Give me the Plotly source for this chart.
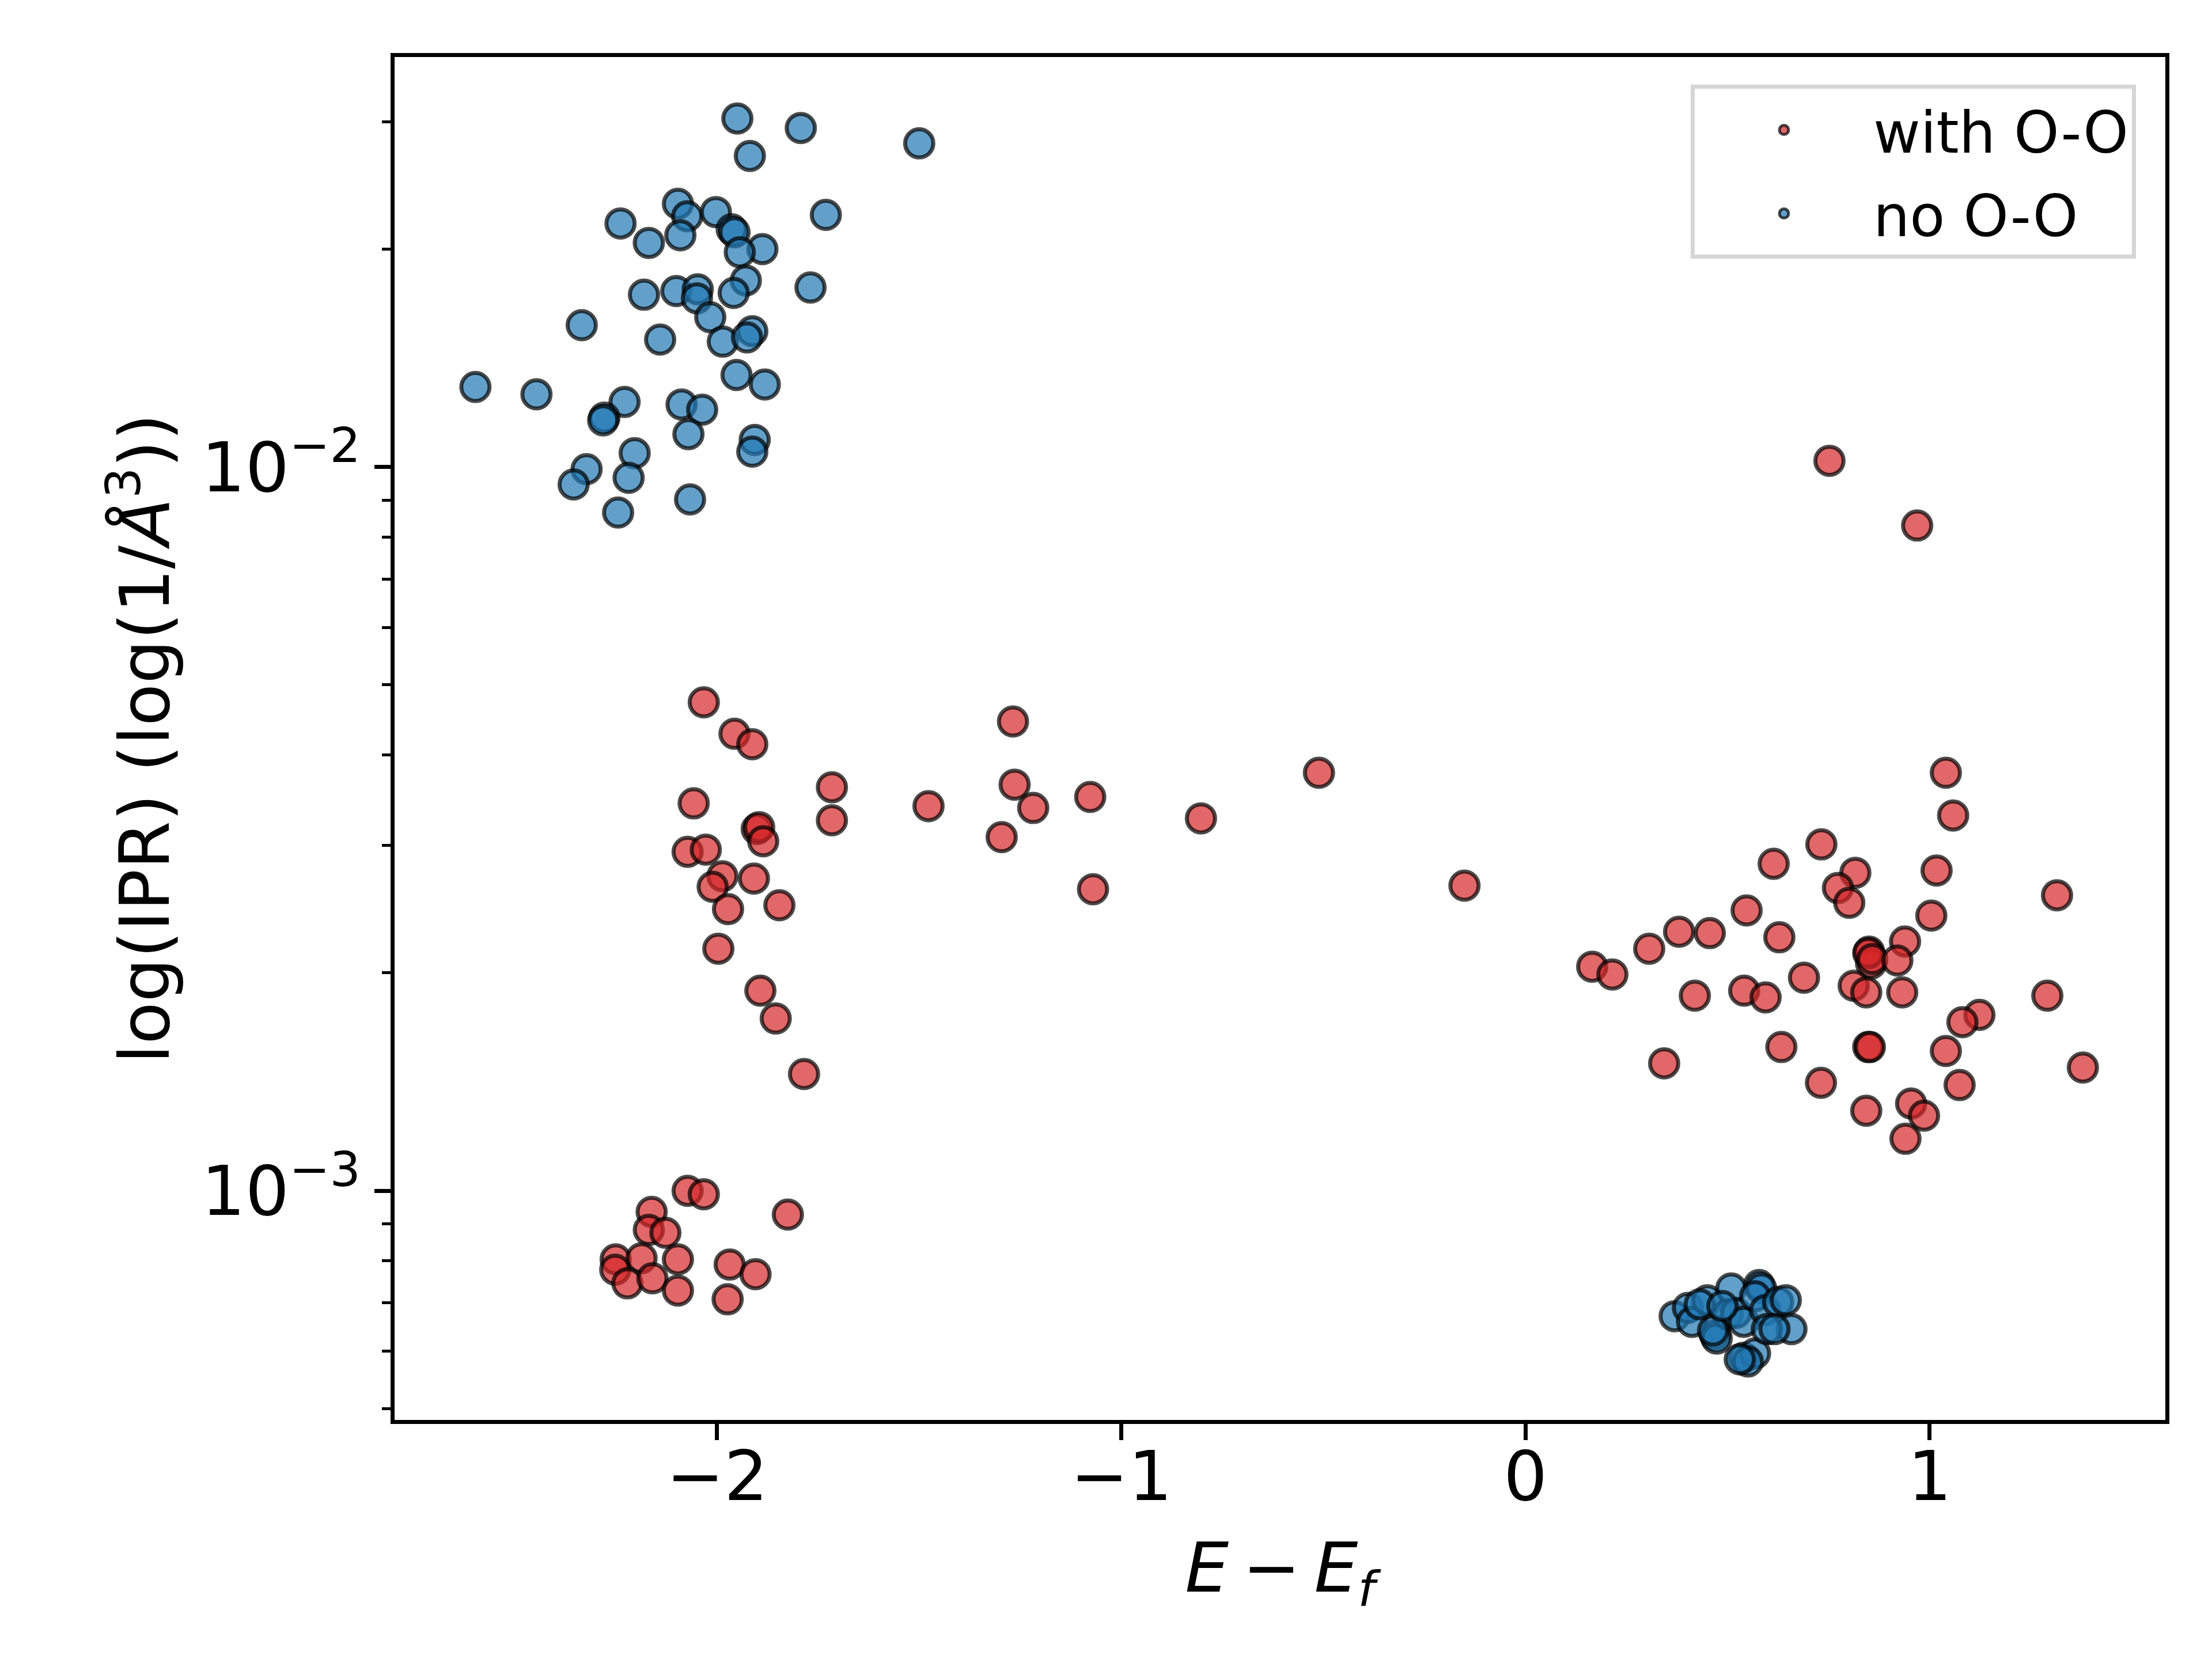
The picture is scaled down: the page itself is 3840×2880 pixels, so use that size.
import plotly.graph_objects as go

# --- DATA ---
# states with an O-O bond (red)
with_oo_x = [
    -2.033, -1.957, -1.913, -1.716, -1.716, -2.058, -1.902, -1.896, -1.886, -2.073,
    -2.028, -1.987, -2.011, -1.909, -1.973, -1.846, -1.997, -1.893, -1.855, -1.785,
    -1.268, -1.477, -1.264, -1.218, -1.296, -1.077, -1.070, -0.803, -0.511, -0.151,
    0.752, 0.969, 1.040, 1.058, 0.732, 0.614, 0.816, 0.773, 0.801, 1.017,
    1.315, 0.547, 1.004, 0.380, 0.456, 0.628, 0.306, 0.165, 0.215, 0.850,
    0.855, 0.848, 0.858, 0.939, 0.920, 0.689, 0.812, 0.843, 0.932, 0.419,
    0.541, 0.594, 1.291, 1.123, 1.081, 0.633, 0.848, 0.852, 1.040, 0.343,
    1.379, 0.731, 1.074, 0.843, 0.954, 0.986, 0.940,
    -2.073, -2.033, -1.825, -2.162, -2.169, -2.128, -2.251, -2.252, -2.187, -2.097,
    -2.222, -2.160, -2.097, -1.969, -1.905, -1.974,
]
with_oo_ipr = [
    0.00473, 0.00428, 0.00414, 0.00361, 0.00325, 0.00343, 0.00316, 0.00318, 0.00304, 0.00294,
    0.00296, 0.00272, 0.00263, 0.00270, 0.00245, 0.00248, 0.00216, 0.00189, 0.00173, 0.00145,
    0.00445, 0.00340, 0.00364, 0.00338, 0.00308, 0.00350, 0.00261, 0.00327, 0.00378, 0.00264,
    0.0102, 0.00830, 0.00378, 0.00330, 0.00301, 0.00283, 0.00275, 0.00262, 0.00250, 0.00277,
    0.00256, 0.00244, 0.00240, 0.00228, 0.00227, 0.00224, 0.00216, 0.00204, 0.00199, 0.00214,
    0.00206, 0.00213, 0.00209, 0.00221, 0.00208, 0.00197, 0.00192, 0.00188, 0.00188, 0.00186,
    0.00189, 0.00185, 0.00186, 0.00175, 0.00171, 0.00158, 0.00158, 0.00158, 0.00156, 0.00150,
    0.00148, 0.00141, 0.00140, 0.00129, 0.00132, 0.00127, 0.00118,
    0.00100, 0.000989, 0.000927, 0.000935, 0.000883, 0.000875, 0.000804, 0.000778, 0.000807, 0.000804,
    0.000745, 0.000757, 0.000728, 0.000791, 0.000767, 0.000708,
]

# states without an O-O bond (blue)
no_oo_x = [
    -1.950, -1.793, -1.500, -1.919, -2.097, -2.074, -2.003, -1.731, -2.239, -1.964,
    -1.957, -2.091, -2.169, -1.888, -1.944, -1.929, -1.769, -2.181, -2.101, -2.048,
    -2.050, -1.959, -2.017, -2.335, -2.141, -1.986, -1.913, -1.926, -1.952, -1.882,
    -2.598, -2.447, -2.229, -2.088, -2.037, -2.279, -2.282, -2.071, -1.907, -1.913,
    -2.204, -2.323, -2.355, -2.219, -2.067, -2.245,
    0.369, 0.402, 0.412, 0.450, 0.469, 0.473, 0.509, 0.500, 0.521, 0.540,
    0.540, 0.568, 0.550, 0.578, 0.583, 0.568, 0.593, 0.625, 0.644, 0.658,
    0.597, 0.464, 0.616, 0.431, 0.530, 0.487,
]
no_oo_ipr = [
    0.0303, 0.0294, 0.0280, 0.0269, 0.0231, 0.0222, 0.0225, 0.0223, 0.0217, 0.0213,
    0.0211, 0.0209, 0.0204, 0.0200, 0.0198, 0.0181, 0.0177, 0.0173, 0.0175, 0.0176,
    0.0171, 0.0174, 0.0161, 0.0157, 0.0150, 0.0149, 0.0154, 0.0151, 0.0134, 0.0130,
    0.0129, 0.0126, 0.0123, 0.0122, 0.0120, 0.0117, 0.0116, 0.0111, 0.0109, 0.0105,
    0.01045, 0.00993, 0.00946, 0.00966, 0.00902, 0.00865,
    0.000671, 0.000689, 0.000659, 0.000706, 0.000632, 0.000625, 0.000733, 0.000675, 0.000678, 0.000659,
    0.000588, 0.000596, 0.000581, 0.000741, 0.000733, 0.000715, 0.000684, 0.000702, 0.000706, 0.000644,
    0.000644, 0.000641, 0.000644, 0.000697, 0.000585, 0.000693,
]

x_ticks = [-2, -1, 0, 1]
x_tick_text = ["\u22122", "\u22121", "0", "1"]
y_ticks = [1e-3, 1e-2]
y_tick_text = ["10<sup>\u22123</sup>", "10<sup>\u22122</sup>"]
y_minor = [5e-4, 6e-4, 7e-4, 8e-4, 9e-4, 2e-3, 3e-3, 4e-3, 5e-3, 6e-3, 7e-3, 8e-3, 9e-3, 2e-2, 3e-2]

FONT = "DejaVu Sans"
MSIZE = 49
MLINE = 7

fig = go.Figure()
fig.add_trace(go.Scatter(
    x=with_oo_x, y=with_oo_ipr, mode="markers", name="with O-O", legendgroup="a",
    marker=dict(size=MSIZE, color="rgba(214,39,40,0.7)",
                line=dict(color="rgba(0,0,0,0.7)", width=MLINE)),
))
fig.add_trace(go.Scatter(
    x=no_oo_x, y=no_oo_ipr, mode="markers", name="no O-O", legendgroup="b",
    marker=dict(size=MSIZE, color="rgba(31,119,180,0.7)",
                line=dict(color="rgba(0,0,0,0.7)", width=MLINE)),
))

axis_common = dict(
    showline=True, linecolor="black", linewidth=7, mirror=True,
    ticks="outside", ticklen=28, tickwidth=7, tickcolor="black",
    showgrid=False, zeroline=False,
    tickfont=dict(family=FONT, size=120, color="black"),
)

fig.update_layout(
    width=3840, height=2880,
    margin=dict(l=677, r=89, t=91, b=423),
    paper_bgcolor="white", plot_bgcolor="white",
    font=dict(family=FONT, color="black"),
    xaxis=dict(
        axis_common, range=[-2.798, 1.583],
        tickmode="array", tickvals=x_ticks, ticktext=x_tick_text,
        ticklabelstandoff=-40,
        title=dict(text="<i>E</i>\u2009\u2212\u2009<i>E</i><sub><i>f</i></sub>",
                   font=dict(family=FONT, size=120), standoff=50),
    ),
    yaxis=dict(
        axis_common, type="log", range=[-3.3166, -1.4336],
        tickmode="array", tickvals=y_ticks, ticktext=y_tick_text,
        minor=dict(tickmode="array", tickvals=y_minor, ticks="outside",
                   ticklen=15, tickwidth=5, tickcolor="black", showgrid=False),
        title=dict(text="log(IPR) (log(1/<i>\u00c5</i><sup>3</sup>))",
                   font=dict(family=FONT, size=120), standoff=18),
    ),
    legend=dict(
        x=0.9834, y=0.9797, xanchor="right", yanchor="top",
        bgcolor="white", bordercolor="#d6d6d6", borderwidth=7,
        font=dict(family=FONT, size=100, color="black"),
        itemwidth=300, tracegroupgap=12,
    ),
)

fig.write_html("out.html")
